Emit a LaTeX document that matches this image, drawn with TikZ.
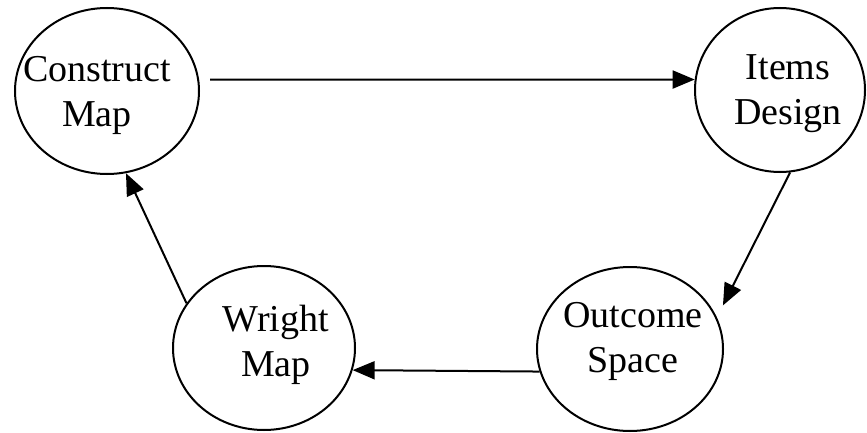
\documentclass[tikz,border=0pt]{standalone}
\usepackage{fontspec}
\setmainfont{Liberation Serif}
\usetikzlibrary{arrows.meta,shapes.geometric}

\begin{document}
\begin{tikzpicture}[x=0.5pt,y=-0.5pt,
	stage/.style={draw,ellipse,line width=1pt,inner sep=0pt},
	stagetext/.style={align=center,inner sep=0pt,font=\fontsize{19}{22.5}\selectfont},
	flow/.style={line width=1pt,-{Triangle[length=11pt,width=9pt]}}]
	\useasboundingbox (0,0) rectangle (867,433);

	\node[stage,minimum width=92pt,minimum height=83pt] (cmap)    at (107,91)  {};
	\node[stage,minimum width=85pt,minimum height=82pt] (items)   at (780,90)  {};
	\node[stage,minimum width=93pt,minimum height=82pt] (outcome) at (630,349) {};
	\node[stage,minimum width=91pt,minimum height=82pt] (wright)  at (264,348) {};

	\node[stagetext] (cmaptext)    at (97,95)   {Construct\\Map};
	\node[stagetext] (itemstext)   at (788,94)  {Items\\Design};
	\node[stagetext] (outcometext) at (633,341) {Outcome\\Space};
	\node[stagetext] (wrighttext)  at (276,345) {Wright\\Map};

	\draw[flow,shorten <=5.5pt] (cmap.7) -- (items.173);
	\draw[flow,shorten >=6.7pt] (items.-83) -- (outcome.20);
	\draw[flow] (outcome.194) -- (wright.-14);
	\draw[flow] (wright.150) -- (cmap.-77);
\end{tikzpicture}
\end{document}
